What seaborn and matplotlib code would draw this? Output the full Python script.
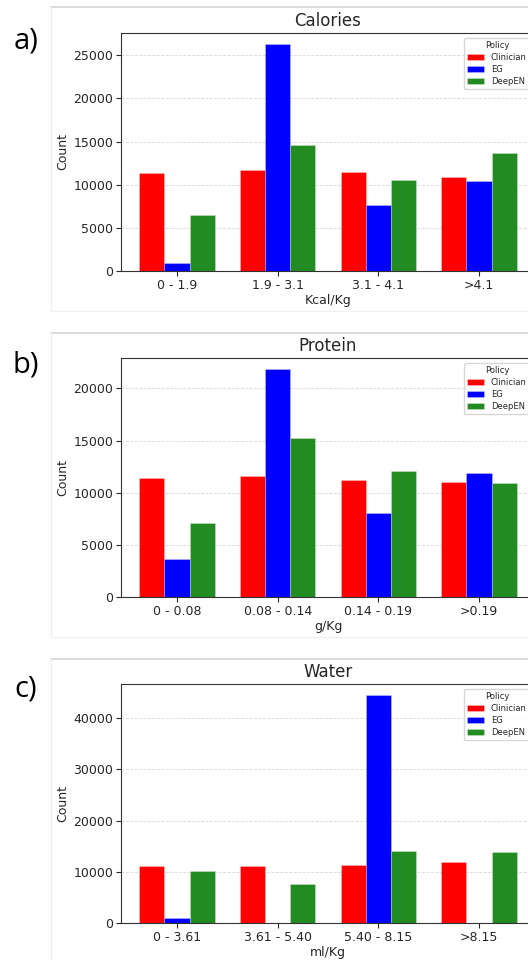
import pandas as pd
import numpy as np
import matplotlib
matplotlib.use("Agg")
import matplotlib.pyplot as plt
from matplotlib.lines import Line2D
import seaborn as sns

# Data (counts per bin)
policies = ["Clinician", "EG", "DeepEN"]
policy_colors = ["#FF0000", "#0000FF", "#228B22"]

cal_bins = ["0 - 1.9", "1.9 - 3.1", "3.1 - 4.1", ">4.1"]
cal_clinician = [11330, 11670, 11480, 10860]
cal_eg = [960, 26270, 7630, 10480]
cal_deepen = [6510, 14640, 10520, 13640]

prot_bins = ["0 - 0.08", "0.08 - 0.14", "0.14 - 0.19", ">0.19"]
prot_clinician = [11440, 11630, 11210, 11020]
prot_eg = [3610, 21820, 8020, 11880]
prot_deepen = [7120, 15240, 12040, 10930]

water_bins = ["0 - 3.61", "3.61 - 5.40", "5.40 - 8.15", ">8.15"]
water_clinician = [11200, 11150, 11340, 11860]
water_eg = [1040, 0, 44430, 0]
water_deepen = [10230, 7560, 14140, 13810]

panels = [
    ("a)", "Calories", "Kcal/Kg", cal_bins, [cal_clinician, cal_eg, cal_deepen]),
    ("b)", "Protein", "g/Kg", prot_bins, [prot_clinician, prot_eg, prot_deepen]),
    ("c)", "Water", "ml/Kg", water_bins, [water_clinician, water_eg, water_deepen]),
]

sns.set_style("ticks", {"axes.edgecolor": ".2", "xtick.color": ".15", "ytick.color": ".15"})
plt.rcParams["xtick.major.size"] = 3.5
plt.rcParams["ytick.major.size"] = 3.5
plt.rcParams["xtick.major.width"] = 0.8
plt.rcParams["ytick.major.width"] = 0.8
plt.rcParams["axes.linewidth"] = 0.8

W, H = 528, 960
fig = plt.figure(figsize=(W / 100, H / 100), dpi=100)

def fx(x):
    return x / W

def fy(y):
    return 1 - y / H

# panel layout in pixels: frame top, frame bottom, axes top, axes bottom, label y
layout = [
    (7, 311, 33, 271, 41),
    (333, 637, 358, 597, 365),
    (659, 960, 684, 923, 689),
]

for (lab, title, xlab, bins, vals), (ftop, fbot, atop, abot, ly) in zip(panels, layout):
    # screenshot-like frame
    fig.add_artist(Line2D([fx(51), fx(528)], [fy(ftop), fy(ftop)], color="#d4d4d4", lw=1.2))
    fig.add_artist(Line2D([fx(51), fx(51)], [fy(ftop), fy(fbot)], color="#efefef", lw=1))
    if fbot < H:
        fig.add_artist(Line2D([fx(51), fx(528)], [fy(fbot), fy(fbot)], color="#f0f0f0", lw=1))

    df = pd.DataFrame({
        "bin": list(bins) * len(policies),
        "Policy": np.repeat(policies, len(bins)),
        "Count": np.concatenate(vals),
    })

    ax = fig.add_axes([fx(121), fy(abot), fx(535) - fx(121), (abot - atop) / H])
    sns.barplot(data=df, x="bin", y="Count", hue="Policy", hue_order=policies,
                order=bins, palette=policy_colors, width=0.75, saturation=1,
                edgecolor=(1, 1, 1, 0.45), linewidth=0.4, errorbar=None, ax=ax)
    ax.set_xlim(-0.556, 3.556)
    ax.set_ylim(0, max(max(v) for v in vals) * 1.05)
    ax.yaxis.grid(True, linestyle="--", color="#d8d8d8", linewidth=0.6)
    ax.set_axisbelow(True)
    ax.set_title(title, fontsize=12, pad=5)
    ax.set_xlabel(xlab, fontsize=9, labelpad=2)
    ax.set_ylabel("Count", fontsize=9, labelpad=3)
    ax.tick_params(labelsize=9, pad=2)
    sns.move_legend(ax, "upper right", title="Policy", fontsize=6, title_fontsize=6,
                    labelspacing=0.35, borderaxespad=0.6, frameon=True)

    fig.text(fx(26), fy(ly), lab, fontsize=21, family="Open Sans", color="black",
             ha="center", va="center")

fig.savefig("out.png", dpi=100)
